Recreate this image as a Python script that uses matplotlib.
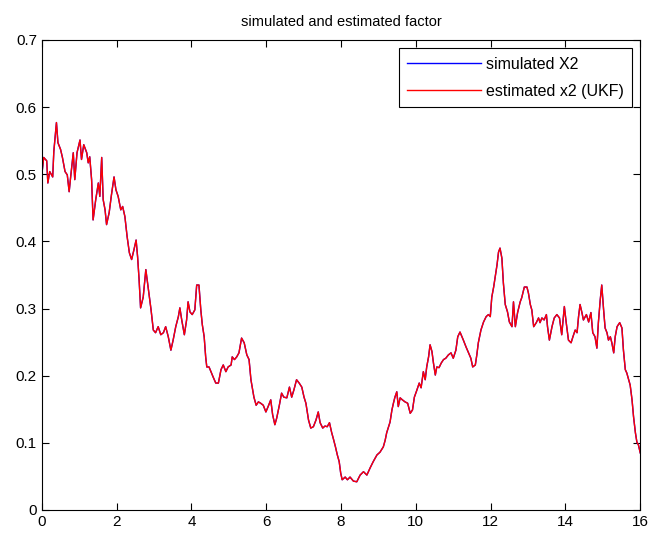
import matplotlib.pyplot as plt

# Valores (tempo e fator x2)
t = [0.00, 0.05, 0.13, 0.16, 0.21, 0.29, 0.32, 0.39, 0.43, 0.50, 0.55, 0.62, 0.68, 0.73, 0.77,
     0.84, 0.88, 0.94, 1.02, 1.06, 1.12, 1.20, 1.24, 1.28, 1.33, 1.37, 1.44, 1.51, 1.55, 1.60,
     1.64, 1.69, 1.73, 1.80, 1.86, 1.93, 1.98, 2.04, 2.11, 2.16, 2.22, 2.28, 2.34, 2.40, 2.46,
     2.52, 2.56, 2.60, 2.64, 2.71, 2.78, 2.84, 2.92, 2.98, 3.04, 3.11, 3.18, 3.25, 3.31, 3.38,
     3.45, 3.51, 3.58, 3.65, 3.69, 3.74, 3.81, 3.87, 3.91, 3.96, 4.02, 4.09, 4.14, 4.20, 4.25,
     4.29, 4.34, 4.38, 4.41, 4.47, 4.52, 4.58, 4.65, 4.72, 4.79, 4.85, 4.92, 4.98, 5.06, 5.09,
     5.15, 5.21, 5.27, 5.34, 5.41, 5.48, 5.54, 5.59, 5.67, 5.73, 5.79, 5.85, 5.92, 5.99, 6.05,
     6.12, 6.17, 6.23, 6.28, 6.35, 6.41, 6.47, 6.55, 6.62, 6.68, 6.74, 6.81, 6.88, 6.95, 7.01,
     7.06, 7.13, 7.19, 7.26, 7.33, 7.39, 7.44, 7.51, 7.57, 7.63, 7.69, 7.75, 7.79, 7.85, 7.90,
     7.95, 7.99, 8.03, 8.11, 8.17, 8.24, 8.33, 8.42, 8.51, 8.60, 8.69, 8.78, 8.86, 8.96, 9.04,
     9.13, 9.18, 9.22, 9.27, 9.31, 9.36, 9.40, 9.44, 9.49, 9.53, 9.58, 9.64, 9.71, 9.78, 9.85,
     9.91, 9.96, 10.03, 10.09, 10.14, 10.20, 10.25, 10.29, 10.34, 10.38, 10.43, 10.47, 10.52,
     10.56, 10.62, 10.68, 10.74, 10.80, 10.87, 10.94, 11.00, 11.07, 11.12, 11.18, 11.27, 11.34,
     11.41, 11.47, 11.52, 11.59, 11.63, 11.67, 11.74, 11.81, 11.88, 11.94, 11.99, 12.03, 12.08,
     12.12, 12.17, 12.21, 12.25, 12.30, 12.34, 12.39, 12.45, 12.50, 12.57, 12.61, 12.66, 12.72,
     12.79, 12.83, 12.90, 12.97, 13.01, 13.06, 13.10, 13.15, 13.22, 13.28, 13.32, 13.37, 13.43,
     13.49, 13.52, 13.57, 13.64, 13.70, 13.77, 13.84, 13.90, 13.97, 14.02, 14.08, 14.15, 14.20,
     14.26, 14.31, 14.35, 14.39, 14.44, 14.48, 14.56, 14.62, 14.68, 14.73, 14.79, 14.84, 14.88,
     14.93, 14.97, 15.02, 15.06, 15.11, 15.15, 15.20, 15.24, 15.29, 15.33, 15.38, 15.45, 15.51,
     15.55, 15.60, 15.64, 15.69, 15.73, 15.78, 15.82, 15.87, 15.91, 15.95, 16.00]

x2 = [0.500, 0.525, 0.520, 0.487, 0.504, 0.496, 0.534, 0.577, 0.547, 0.537, 0.525, 0.504, 0.499,
      0.474, 0.496, 0.532, 0.492, 0.532, 0.551, 0.522, 0.544, 0.532, 0.517, 0.526, 0.492, 0.432,
      0.462, 0.487, 0.467, 0.525, 0.462, 0.447, 0.425, 0.443, 0.469, 0.496, 0.477, 0.467, 0.447,
      0.452, 0.437, 0.407, 0.383, 0.373, 0.387, 0.402, 0.377, 0.343, 0.301, 0.317, 0.358, 0.332,
      0.298, 0.268, 0.264, 0.273, 0.261, 0.264, 0.273, 0.258, 0.238, 0.253, 0.273, 0.288, 0.301,
      0.283, 0.261, 0.283, 0.310, 0.295, 0.291, 0.298, 0.335, 0.335, 0.298, 0.276, 0.258, 0.228,
      0.213, 0.213, 0.206, 0.198, 0.189, 0.189, 0.209, 0.216, 0.206, 0.213, 0.216, 0.228, 0.224,
      0.228, 0.234, 0.256, 0.249, 0.231, 0.224, 0.194, 0.168, 0.156, 0.161, 0.159, 0.156, 0.146,
      0.154, 0.164, 0.142, 0.127, 0.137, 0.156, 0.174, 0.168, 0.167, 0.183, 0.168, 0.179, 0.194,
      0.189, 0.183, 0.168, 0.159, 0.134, 0.122, 0.124, 0.134, 0.146, 0.130, 0.122, 0.125, 0.124,
      0.130, 0.115, 0.107, 0.094, 0.082, 0.072, 0.055, 0.045, 0.049, 0.045, 0.049, 0.043, 0.042,
      0.052, 0.057, 0.052, 0.063, 0.072, 0.082, 0.086, 0.094, 0.104, 0.115, 0.124, 0.131, 0.149,
      0.159, 0.168, 0.176, 0.154, 0.167, 0.164, 0.161, 0.159, 0.144, 0.149, 0.168, 0.179, 0.189,
      0.182, 0.206, 0.194, 0.213, 0.228, 0.246, 0.236, 0.219, 0.201, 0.213, 0.212, 0.219, 0.224,
      0.226, 0.231, 0.234, 0.226, 0.238, 0.258, 0.265, 0.253, 0.243, 0.234, 0.226, 0.213, 0.216,
      0.231, 0.249, 0.268, 0.280, 0.288, 0.291, 0.288, 0.317, 0.332, 0.347, 0.365, 0.384, 0.390,
      0.375, 0.338, 0.306, 0.295, 0.280, 0.273, 0.310, 0.273, 0.294, 0.310, 0.316, 0.332, 0.332,
      0.323, 0.306, 0.298, 0.273, 0.279, 0.286, 0.279, 0.286, 0.283, 0.291, 0.273, 0.253, 0.273,
      0.286, 0.291, 0.286, 0.261, 0.303, 0.279, 0.253, 0.249, 0.258, 0.268, 0.264, 0.288, 0.306,
      0.294, 0.283, 0.291, 0.280, 0.294, 0.264, 0.258, 0.241, 0.279, 0.313, 0.335, 0.298, 0.271,
      0.264, 0.253, 0.258, 0.249, 0.234, 0.258, 0.273, 0.279, 0.271, 0.238, 0.209, 0.204, 0.194,
      0.186, 0.164, 0.139, 0.115, 0.101, 0.097, 0.085]

# Estimativa UKF praticamente sobreposta à série simulada
x2_ukf = list(x2)

plt.rcParams['font.family'] = ['Liberation Sans', 'DejaVu Sans']

fig = plt.figure(figsize=(6.54, 5.4), dpi=100)
ax = fig.add_axes([0.064, 0.0556, 0.915, 0.8704])

ax.plot(t, x2, color='b', linewidth=1.0, label='simulated X2')
ax.plot(t, x2_ukf, color='r', linewidth=1.0, label='estimated x2 (UKF)')

ax.set_xlim(0, 16)
ax.set_ylim(0, 0.7)
ax.set_xticks(range(0, 17, 2))
ax.set_yticks([i / 10 for i in range(8)])
ax.set_yticklabels(['0', '0.1', '0.2', '0.3', '0.4', '0.5', '0.6', '0.7'])
ax.tick_params(direction='in', top=True, right=True, labelsize=11, length=5)
ax.set_title('simulated and estimated factor', fontsize=10.5, pad=10)

leg = ax.legend(loc='upper right', fancybox=False, framealpha=1, edgecolor='black',
                fontsize=11.5, handlelength=4.6, labelspacing=0.75, handletextpad=0.3,
                borderpad=0.55, borderaxespad=0.5)
leg.get_frame().set_linewidth(0.8)

plt.savefig('out.png', dpi=100)
